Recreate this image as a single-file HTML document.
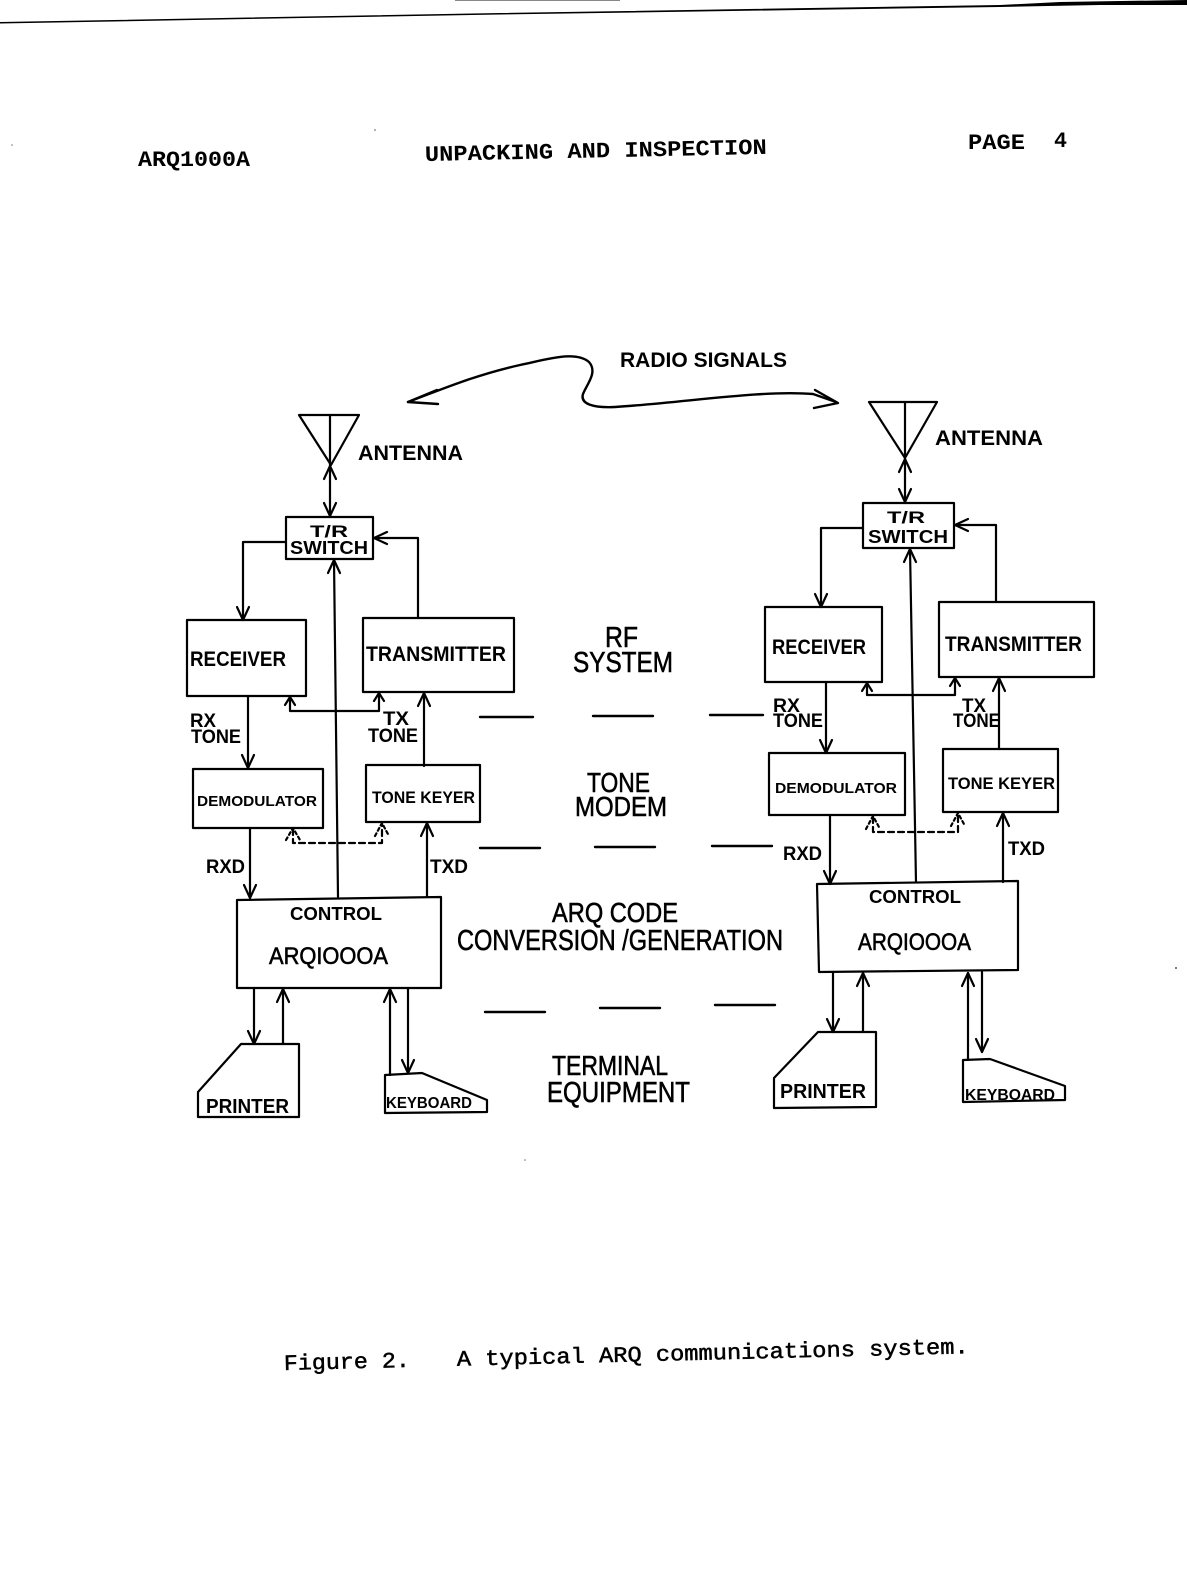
<!DOCTYPE html>
<html><head><meta charset="utf-8">
<style>
html,body{margin:0;padding:0;background:#fff;}
svg{display:block;}
.d{font-family:"Liberation Sans",sans-serif;fill:#000;stroke:#000;stroke-width:0.6;}
.b{font-family:"Liberation Sans",sans-serif;fill:#000;font-weight:bold;}
.m{font-family:"Liberation Mono",monospace;fill:#000;font-weight:bold;}
.c{font-family:"Liberation Mono",monospace;fill:#000;stroke:#000;stroke-width:0.5;}
</style></head>
<body>
<svg width="1187" height="1582" viewBox="0 0 1187 1582" xmlns="http://www.w3.org/2000/svg">
<rect width="1187" height="1582" fill="#fff"/>

<!-- top scan edge line -->
<polygon points="0,22 500,13 1000,5 1060,2 1187,0 1187,5 1100,5 1000,7 500,14.5 0,23.5" fill="#000"/>
<line x1="455" y1="0.5" x2="620" y2="0.5" stroke="#888" stroke-width="1"/>

<!-- header -->
<text class="m" x="138" y="166" font-size="22" textLength="112" lengthAdjust="spacingAndGlyphs">ARQ1000A</text>
<text class="m" transform="rotate(-1.2 425 161)" x="425" y="161" font-size="22" textLength="342" lengthAdjust="spacingAndGlyphs">UNPACKING AND INSPECTION</text>
<text class="m" x="968" y="149" font-size="22" textLength="57" lengthAdjust="spacingAndGlyphs">PAGE</text>
<text class="m" x="1054" y="147" font-size="22" textLength="13" lengthAdjust="spacingAndGlyphs">4</text>

<!-- specks -->
<circle cx="375" cy="130" r="0.8" fill="#555"/>
<circle cx="1176" cy="968" r="1" fill="#555"/>
<circle cx="525" cy="1160" r="0.8" fill="#777"/>
<circle cx="12" cy="145" r="0.8" fill="#777"/>

<!-- radio signals -->
<text class="b" x="620" y="367" font-size="21" textLength="167" lengthAdjust="spacingAndGlyphs">RADIO SIGNALS</text>
<g fill="none" stroke="#000" stroke-width="2.4" stroke-linecap="round" stroke-linejoin="round">
<path d="M408,402 C440,390 475,375 520,365 C545,360 575,350 589,362 C598,372 587,384 583,394 C580,404 593,408 615,407 C690,402 760,390 813,394 L836,402"/>
<path d="M437,390 L408,402 L438,404"/>
<path d="M815,390 L838,403 L814,408"/>
</g>

<!-- ============ LEFT SYSTEM ============ -->
<g fill="none" stroke="#000" stroke-width="2.2" stroke-linecap="round" stroke-linejoin="round">
<polygon points="299,415 359,415 331,465"/>
<path d="M330,415 V517"/>
<path d="M324,479 L330,466 L336,479"/>
<path d="M324,503 L330,516 L336,503"/>
<rect x="286" y="517" width="87" height="42"/>
<path d="M286,542 H243 V620"/>
<path d="M237,607 L243,620 L249,607"/>
<rect x="187" y="620" width="119" height="76"/>
<rect x="363" y="618" width="151" height="74"/>
<path d="M418,618 V538 H374"/>
<path d="M387,532 L374,538 L387,544"/>
<path d="M338,897 L334,560"/>
<path d="M328,573 L334,560 L340,573"/>
<path d="M290,698 V711 H379 V693"/>
<path d="M285,705 L290,697 L295,705"/>
<path d="M374,701 L379,693 L384,701"/>
<path d="M424,766 V693"/>
<path d="M418,706 L424,693 L430,706"/>
<path d="M248,696 V768"/>
<path d="M242,755 L248,768 L254,755"/>
<rect x="193" y="769" width="130" height="59"/>
<rect x="366" y="765" width="114" height="57"/>
<path d="M293,829 V843 H382 V824" stroke-dasharray="6,4"/>
<path d="M286,840 L293,828 L300,840" stroke-dasharray="3,3"/>
<path d="M375,836 L382,823 L389,836" stroke-dasharray="3,3"/>
<path d="M250,828 V898"/>
<path d="M244,885 L250,898 L256,885"/>
<path d="M427,897 V823"/>
<path d="M421,836 L427,823 L433,836"/>
<polygon points="237,900 441,897 441,988 237,988"/>
<path d="M254,988 V1044"/>
<path d="M248,1031 L254,1044 L260,1031"/>
<path d="M283,1044 V989"/>
<path d="M277,1002 L283,989 L289,1002"/>
<polygon points="241,1044 299,1044 299,1117 198,1117 198,1092"/>
<path d="M390,1075 V989"/>
<path d="M384,1002 L390,989 L396,1002"/>
<path d="M408,988 V1073"/>
<path d="M402,1060 L408,1073 L414,1060"/>
<polygon points="385,1075 422,1073 487,1100 487,1112 385,1113"/>
</g>
<text class="b" x="358" y="460" font-size="21" textLength="105" lengthAdjust="spacingAndGlyphs">ANTENNA</text>
<text class="b" x="310" y="537" font-size="17" textLength="38" lengthAdjust="spacingAndGlyphs">T/R</text>
<text class="b" x="290" y="554" font-size="18" textLength="78" lengthAdjust="spacingAndGlyphs">SWITCH</text>
<text class="b" x="190" y="666" font-size="21" textLength="96" lengthAdjust="spacingAndGlyphs">RECEIVER</text>
<text class="b" x="366" y="661" font-size="21" textLength="140" lengthAdjust="spacingAndGlyphs">TRANSMITTER</text>
<text class="b" x="190" y="727" font-size="19" textLength="26" lengthAdjust="spacingAndGlyphs">RX</text>
<text class="b" x="191" y="743" font-size="19" textLength="50" lengthAdjust="spacingAndGlyphs">TONE</text>
<text class="b" x="383" y="725" font-size="19" textLength="26" lengthAdjust="spacingAndGlyphs">TX</text>
<text class="b" x="368" y="742" font-size="19" textLength="50" lengthAdjust="spacingAndGlyphs">TONE</text>
<text class="b" x="197" y="806" font-size="15" textLength="120" lengthAdjust="spacingAndGlyphs">DEMODULATOR</text>
<text class="b" x="372" y="803" font-size="17" textLength="103" lengthAdjust="spacingAndGlyphs">TONE KEYER</text>
<text class="b" x="206" y="873" font-size="19" textLength="39" lengthAdjust="spacingAndGlyphs">RXD</text>
<text class="b" x="430" y="873" font-size="19" textLength="38" lengthAdjust="spacingAndGlyphs">TXD</text>
<text class="b" x="290" y="920" font-size="18" textLength="92" lengthAdjust="spacingAndGlyphs">CONTROL</text>
<text class="d" x="269" y="964" font-size="24" textLength="119" lengthAdjust="spacingAndGlyphs">ARQIOOOA</text>
<text class="b" x="206" y="1113" font-size="20" textLength="83" lengthAdjust="spacingAndGlyphs">PRINTER</text>
<text class="b" x="386" y="1108" font-size="16" textLength="86" lengthAdjust="spacingAndGlyphs">KEYBOARD</text>

<!-- ============ RIGHT SYSTEM ============ -->
<g fill="none" stroke="#000" stroke-width="2.2" stroke-linecap="round" stroke-linejoin="round">
<polygon points="869,402 937,402 905,458"/>
<path d="M905,402 V503"/>
<path d="M899,472 L905,459 L911,472"/>
<path d="M899,489 L905,502 L911,489"/>
<rect x="863" y="503" width="91" height="45"/>
<path d="M863,528 H821 V607"/>
<path d="M815,594 L821,607 L827,594"/>
<rect x="765" y="607" width="117" height="75"/>
<rect x="939" y="602" width="155" height="75"/>
<path d="M996,602 V525 H955"/>
<path d="M968,519 L955,525 L968,531"/>
<path d="M916,882 L910,549"/>
<path d="M904,562 L910,549 L916,562"/>
<path d="M867,684 V695 H955 V678"/>
<path d="M862,691 L867,683 L872,691"/>
<path d="M950,686 L955,678 L960,686"/>
<path d="M999,749 V678"/>
<path d="M993,691 L999,678 L1005,691"/>
<path d="M826,682 V753"/>
<path d="M820,740 L826,753 L832,740"/>
<rect x="769" y="753" width="136" height="62"/>
<rect x="943" y="749" width="115" height="63"/>
<path d="M873,817 V832 H958 V814" stroke-dasharray="6,4"/>
<path d="M866,829 L873,816 L880,829" stroke-dasharray="3,3"/>
<path d="M951,826 L958,813 L965,826" stroke-dasharray="3,3"/>
<path d="M830,815 V884"/>
<path d="M824,871 L830,884 L836,871"/>
<path d="M1003,882 V813"/>
<path d="M997,826 L1003,813 L1009,826"/>
<polygon points="817,884 1018,881 1018,970 819,972"/>
<path d="M833,972 V1032"/>
<path d="M827,1019 L833,1032 L839,1019"/>
<path d="M863,1032 V973"/>
<path d="M857,986 L863,973 L869,986"/>
<polygon points="818,1032 876,1032 876,1107 774,1108 774,1078"/>
<path d="M968,1060 V973"/>
<path d="M962,986 L968,973 L974,986"/>
<path d="M982,972 V1052"/>
<path d="M976,1039 L982,1052 L988,1039"/>
<polygon points="963,1060 990,1059 1065,1086 1065,1100 963,1102"/>
</g>
<text class="b" x="935" y="445" font-size="21" textLength="108" lengthAdjust="spacingAndGlyphs">ANTENNA</text>
<text class="b" x="887" y="523" font-size="17" textLength="38" lengthAdjust="spacingAndGlyphs">T/R</text>
<text class="b" x="868" y="543" font-size="18" textLength="80" lengthAdjust="spacingAndGlyphs">SWITCH</text>
<text class="b" x="772" y="654" font-size="21" textLength="94" lengthAdjust="spacingAndGlyphs">RECEIVER</text>
<text class="b" x="945" y="651" font-size="21" textLength="137" lengthAdjust="spacingAndGlyphs">TRANSMITTER</text>
<text class="b" x="773" y="712" font-size="19" textLength="27" lengthAdjust="spacingAndGlyphs">RX</text>
<text class="b" x="773" y="727" font-size="19" textLength="50" lengthAdjust="spacingAndGlyphs">TONE</text>
<text class="b" x="962" y="712" font-size="19" textLength="24" lengthAdjust="spacingAndGlyphs">TX</text>
<text class="b" x="953" y="727" font-size="19" textLength="47" lengthAdjust="spacingAndGlyphs">TONE</text>
<text class="b" x="775" y="793" font-size="15" textLength="122" lengthAdjust="spacingAndGlyphs">DEMODULATOR</text>
<text class="b" x="948" y="789" font-size="17" textLength="107" lengthAdjust="spacingAndGlyphs">TONE KEYER</text>
<text class="b" x="783" y="860" font-size="19" textLength="39" lengthAdjust="spacingAndGlyphs">RXD</text>
<text class="b" x="1008" y="855" font-size="19" textLength="37" lengthAdjust="spacingAndGlyphs">TXD</text>
<text class="b" x="869" y="903" font-size="18" textLength="92" lengthAdjust="spacingAndGlyphs">CONTROL</text>
<text class="d" x="858" y="950" font-size="24" textLength="113" lengthAdjust="spacingAndGlyphs">ARQIOOOA</text>
<text class="b" x="780" y="1098" font-size="20" textLength="86" lengthAdjust="spacingAndGlyphs">PRINTER</text>
<text class="b" x="965" y="1100" font-size="16" textLength="90" lengthAdjust="spacingAndGlyphs">KEYBOARD</text>

<!-- ============ MIDDLE ============ -->
<g stroke="#000" stroke-width="2.4" stroke-linecap="round">
<line x1="480" y1="717" x2="533" y2="717"/>
<line x1="593" y1="716" x2="653" y2="716"/>
<line x1="710" y1="715" x2="763" y2="715"/>
<line x1="480" y1="848" x2="540" y2="848"/>
<line x1="595" y1="847" x2="655" y2="847"/>
<line x1="712" y1="846" x2="772" y2="846"/>
<line x1="485" y1="1012" x2="545" y2="1012"/>
<line x1="600" y1="1008" x2="660" y2="1008"/>
<line x1="715" y1="1005" x2="775" y2="1005"/>
</g>
<text class="d" x="605" y="647" font-size="29" textLength="33" lengthAdjust="spacingAndGlyphs">RF</text>
<text class="d" x="573" y="672" font-size="29" textLength="100" lengthAdjust="spacingAndGlyphs">SYSTEM</text>
<text class="d" x="587" y="792" font-size="28" textLength="63" lengthAdjust="spacingAndGlyphs">TONE</text>
<text class="d" x="575" y="816" font-size="28" textLength="92" lengthAdjust="spacingAndGlyphs">MODEM</text>
<text class="d" x="552" y="922" font-size="28" textLength="126" lengthAdjust="spacingAndGlyphs">ARQ CODE</text>
<text class="d" x="457" y="950" font-size="29" textLength="326" lengthAdjust="spacingAndGlyphs">CONVERSION /GENERATION</text>
<text class="d" x="552" y="1075" font-size="28" textLength="116" lengthAdjust="spacingAndGlyphs">TERMINAL</text>
<text class="d" x="547" y="1102" font-size="29" textLength="143" lengthAdjust="spacingAndGlyphs">EQUIPMENT</text>

<!-- caption -->
<g transform="rotate(-1.4 284 1370)">
<text class="c" x="284" y="1370" font-size="22" textLength="126" lengthAdjust="spacingAndGlyphs">Figure 2.</text>
<text class="c" x="457" y="1370" font-size="22" textLength="512" lengthAdjust="spacingAndGlyphs">A typical ARQ communications system.</text>
</g>
</svg>
</body></html>
